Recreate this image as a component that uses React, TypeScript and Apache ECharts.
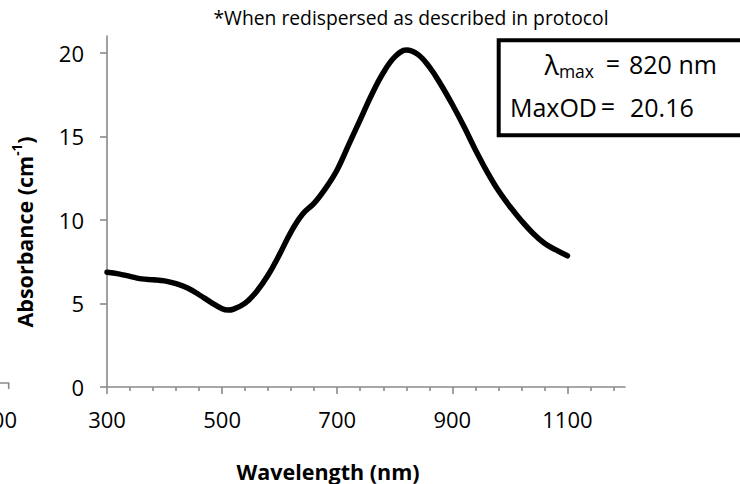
import React, { useEffect, useRef } from "react";
import * as echarts from "echarts";

const wavelengths = [300, 320, 340, 360, 380, 400, 420, 440, 460, 480, 500, 510, 520, 540, 560, 580, 600, 620, 640, 660, 680, 700, 720, 740, 760, 780, 800, 820, 840, 860, 880, 900, 920, 940, 960, 980, 1000, 1020, 1040, 1060, 1080, 1100];
const absorbance = [6.87, 6.77, 6.62, 6.47, 6.42, 6.35, 6.18, 5.92, 5.52, 5.08, 4.68, 4.6, 4.66, 5.02, 5.72, 6.7, 7.95, 9.3, 10.35, 11.0, 11.9, 13.0, 14.5, 16.0, 17.5, 18.8, 19.75, 20.16, 19.9, 19.15, 18.1, 16.9, 15.6, 14.2, 12.9, 11.75, 10.8, 9.95, 9.2, 8.6, 8.2, 7.85];
const xMajorTicks = [300, 500, 700, 900, 1100];
const xMinorTicks = [340, 380, 420, 460, 540, 580, 620, 660, 740, 780, 820, 860, 940, 980, 1020, 1060, 1140, 1180];
const yTicks = [0, 5, 10, 15, 20];
const titleText = "*When redispersed as described in protocol";
const lambdaValue = "820 nm";
const maxODValue = "20.16";

const FONT = "'Open Sans', sans-serif";
const AXIS = "#8a8a8a";

export default function App() {
  const ref = useRef<HTMLDivElement>(null);
  useEffect(() => {
    if (!ref.current) return;
    const chart = echarts.init(ref.current, null, { renderer: "svg" });
    const data = wavelengths.map((w, i) => [w, absorbance[i]]);
    chart.setOption({
      animation: false,
      backgroundColor: "#ffffff",
      grid: { left: 107, right: 115, top: 36, bottom: 97, containLabel: false },
      xAxis: [
        {
          type: "value",
          min: 300,
          max: 1200,
          axisLine: { show: true, lineStyle: { color: AXIS, width: 1.6 } },
          axisTick: { show: true, customValues: xMajorTicks, length: 7, lineStyle: { color: AXIS, width: 1.6 } },
          axisLabel: { customValues: xMajorTicks, formatter: (v: number) => String(v), fontSize: 22, color: "#000", fontFamily: FONT, margin: 21 },
          splitLine: { show: false },
        },
        {
          type: "value",
          min: 300,
          max: 1200,
          position: "bottom",
          axisLine: { show: false },
          axisTick: { show: true, customValues: xMinorTicks, length: 4, lineStyle: { color: AXIS, width: 1.6 } },
          axisLabel: { show: false },
          splitLine: { show: false },
        },
      ],
      yAxis: {
        type: "value",
        min: 0,
        max: 21,
        axisLine: { show: true, lineStyle: { color: AXIS, width: 1.6 } },
        axisTick: { show: true, customValues: yTicks, length: 7, lineStyle: { color: AXIS, width: 1.6 } },
        axisLabel: { customValues: yTicks, fontSize: 22, color: "#000", fontFamily: FONT, margin: 23 },
        splitLine: { show: false },
      },
      series: [
        {
          type: "line",
          xAxisIndex: 0,
          data,
          smooth: 0.4,
          showSymbol: false,
          lineStyle: { color: "#000", width: 5.5, cap: "round", join: "round" },
        },
      ],
      graphic: [
        {
          type: "text",
          x: 411,
          y: 17,
          style: { text: titleText, fontSize: 19.3, fontFamily: FONT, fill: "#000", align: "center", verticalAlign: "middle" },
        },
        {
          type: "text",
          x: 24,
          y: 232,
          rotation: Math.PI / 2,
          style: {
            text: "{b|Absorbance (cm}{s|-1}{b|)}",
            align: "center",
            verticalAlign: "middle",
            fill: "#000",
            rich: {
              b: { fontSize: 21.5, fontWeight: "bold", fontFamily: FONT, fill: "#000", lineHeight: 28 },
              s: { fontSize: 13.5, fontWeight: "bold", fontFamily: FONT, fill: "#000", verticalAlign: "top", lineHeight: 15 },
            },
          },
        },
        {
          type: "text",
          x: 328,
          y: 471,
          style: { text: "Wavelength (nm)", fontSize: 21.5, fontWeight: "bold", fontFamily: FONT, fill: "#000", align: "center", verticalAlign: "middle" },
        },
        {
          type: "rect",
          shape: { x: 498.7, y: 40.3, width: 260, height: 95 },
          style: { fill: "#fff", stroke: "#000", lineWidth: 4 },
        },
        {
          type: "text",
          x: 594,
          y: 64,
          style: {
            text: "{a|λ}{s|max}",
            align: "right",
            verticalAlign: "middle",
            rich: {
              a: { fontSize: 27, fontFamily: FONT, fill: "#000", lineHeight: 32 },
              s: { fontSize: 17.5, fontFamily: FONT, fill: "#000", verticalAlign: "bottom", lineHeight: 15 },
            },
          },
        },
        {
          type: "text",
          x: 613,
          y: 63,
          style: { text: "=", fontSize: 25, fontFamily: FONT, fill: "#000", align: "center", verticalAlign: "middle" },
        },
        {
          type: "text",
          x: 629,
          y: 64,
          style: { text: lambdaValue, fontSize: 25, fontFamily: FONT, fill: "#000", align: "left", verticalAlign: "middle" },
        },
        {
          type: "text",
          x: 597,
          y: 107,
          style: { text: "MaxOD", fontSize: 25, fontFamily: FONT, fill: "#000", align: "right", verticalAlign: "middle" },
        },
        {
          type: "text",
          x: 608,
          y: 106,
          style: { text: "=", fontSize: 25, fontFamily: FONT, fill: "#000", align: "center", verticalAlign: "middle" },
        },
        {
          type: "text",
          x: 630,
          y: 107,
          style: { text: maxODValue, fontSize: 25, fontFamily: FONT, fill: "#000", align: "left", verticalAlign: "middle" },
        },
        {
          type: "text",
          x: 17,
          y: 419,
          style: { text: "00", fontSize: 22, fontFamily: FONT, fill: "#000", align: "right", verticalAlign: "middle" },
        },
        {
          type: "polyline",
          shape: { points: [[-2, 383], [8.7, 383], [8.7, 389]] },
          style: { stroke: AXIS, lineWidth: 1.6, fill: null },
        },
      ],
    });
    return () => chart.dispose();
  }, []);
  return <div ref={ref} style={{ position: "fixed", left: 0, top: 0, width: 740, height: 484 }} />;
}
